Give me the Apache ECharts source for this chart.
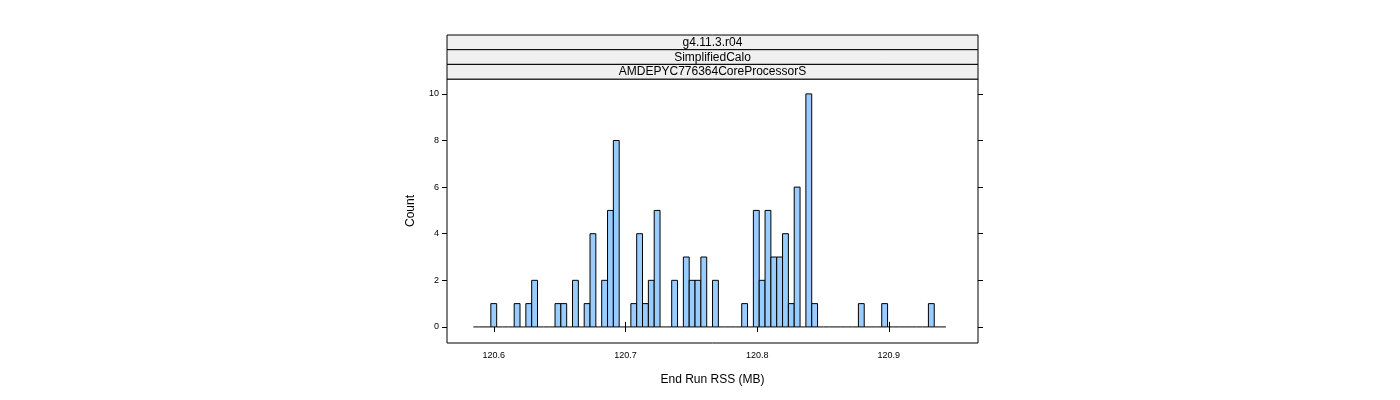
<!DOCTYPE html><html><head><meta charset="utf-8">
<script src="https://cdn.jsdelivr.net/npm/echarts@6/dist/echarts.min.js"></script>
<style>body{margin:0}#c{width:1400px;height:400px}</style></head><body><div id="c"></div>
<script>
const binStart = 120.5845;
const binWidth = 0.00443;
const counts = [0,0,0,1,0,0,0,1,0,1,2,0,0,0,1,1,0,2,0,1,4,0,2,5,8,0,0,1,4,1,2,5,0,0,2,0,3,2,2,3,0,2,0,0,0,0,1,0,5,2,5,3,3,4,1,6,0,10,1,0,0,0,0,0,0,0,1,0,0,0,1,0,0,0,0,0,0,0,1,0,0];
const xTicks = [120.6,120.7,120.8,120.9];
const yTicks = [0,2,4,6,8,10];
const strips = ['g4.11.3.r04','SimplifiedCalo','AMDEPYC776364CoreProcessorS'];

const data = counts.map((c,i)=>[binStart+i*binWidth, binStart+(i+1)*binWidth, c]);
const chart = echarts.init(document.getElementById('c'));
const tf = {fontFamily:'Liberation Sans, Arial', fontSize:9, color:'#000'};
const sg = [];
strips.forEach((s,i)=>{
  const top = 35 + i*14.7;
  sg.push({type:'rect',shape:{x:447,y:top,width:531,height:14.7},style:{fill:'#f0f0f0',stroke:'#000',lineWidth:1}});
  sg.push({type:'text',x:712.5,y:top+7.5,style:{text:s,fill:'#000',font:'12px Liberation Sans, Arial',align:'center',verticalAlign:'middle'}});
});
chart.setOption({
  animation:false,
  grid:{left:447,right:422,top:79,bottom:57,show:true,borderColor:'#000',borderWidth:1},
  graphic:sg,
  xAxis:[
    {type:'value',min:120.5645,max:120.9677,position:'bottom',axisLine:{show:false},splitLine:{show:false},
     axisTick:{show:true,length:5,lineStyle:{color:'#000'},customValues:xTicks},axisLabel:{...tf,margin:8,customValues:xTicks,formatter:v=>v.toFixed(1)},
     name:'End Run RSS (MB)',nameLocation:'middle',nameGap:31,nameTextStyle:{fontFamily:'Liberation Sans, Arial',fontSize:12,color:'#000'}},
    {type:'value',min:120.5645,max:120.9677,position:'top',offset:44,axisLine:{show:false},splitLine:{show:false},
     axisTick:{show:true,length:5,lineStyle:{color:'#000'},customValues:xTicks},axisLabel:{show:false}}
  ],
  yAxis:[
    {type:'value',min:-0.69,max:10.64,position:'left',axisLine:{show:false},splitLine:{show:false},
     axisTick:{show:true,length:5,lineStyle:{color:'#000'},customValues:yTicks},axisLabel:{...tf,margin:8,customValues:yTicks},
     name:'Count',nameLocation:'middle',nameGap:30,nameTextStyle:{fontFamily:'Liberation Sans, Arial',fontSize:12,color:'#000'}},
    {type:'value',min:-0.69,max:10.64,position:'right',axisLine:{show:false},splitLine:{show:false},
     axisTick:{show:true,length:5,lineStyle:{color:'#000'},customValues:yTicks},axisLabel:{show:false}}
  ],
  series:[{type:'custom',data:data,encode:{x:[0,1],y:2},
    renderItem:(p,api)=>{
      const a=api.coord([api.value(0),0]), b=api.coord([api.value(1),api.value(2)]);
      if(api.value(2)===0) return {type:'line',shape:{x1:a[0],y1:a[1],x2:b[0],y2:a[1]},style:{stroke:'#000',lineWidth:1}};
      return {type:'rect',shape:{x:a[0],y:b[1],width:b[0]-a[0],height:a[1]-b[1]},style:{fill:'#99CCFF',stroke:'#000',lineWidth:1}};
    }}]
});
</script></body></html>
